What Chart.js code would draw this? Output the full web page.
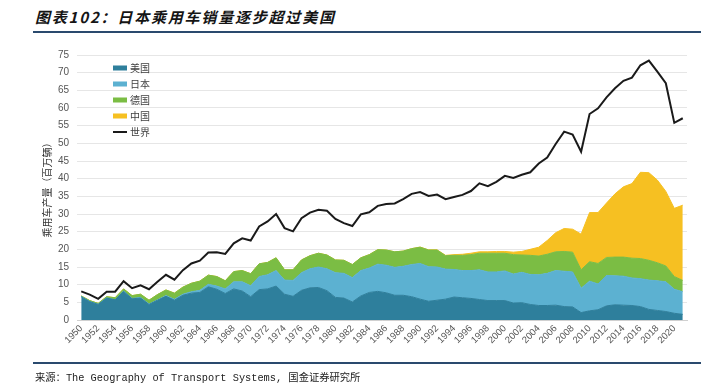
<!DOCTYPE html>
<html><head><meta charset="utf-8">
<script src="https://cdn.jsdelivr.net/npm/chart.js@4.4.0/dist/chart.umd.min.js"></script>
<style>
html,body{margin:0;padding:0;background:#fff;width:701px;height:386px;overflow:hidden;}
#wrap{position:absolute;left:0;top:0;width:701px;height:386px;}
.title{position:absolute;left:35px;top:7px;font:italic bold 15px "Noto Sans CJK SC",sans-serif;letter-spacing:1.8px;color:#151515;white-space:nowrap;line-height:20px;}
.rule{position:absolute;left:33px;width:668px;background:#2a4a6e;}
.src{position:absolute;left:35px;top:370px;font:10.3px "Liberation Mono","Noto Sans CJK SC",monospace;color:#222;white-space:nowrap;line-height:16px;}
</style></head>
<body>
<div class="title">图表102：日本乘用车销量逐步超过美国</div>
<div class="rule" style="top:31px;height:2px;"></div>
<div id="wrap"><canvas id="c" width="701" height="386"></canvas></div>
<div class="rule" style="top:362px;height:1.5px;"></div>
<div class="src">来源：The Geography of Transport Systems, 国金证券研究所</div>
<script>
const years = [];
for (let y = 1950; y <= 2021; y++) years.push(String(y));

const seriesNames = ['美国','日本','德国','中国','世界'];

const usa = [6.6,5.2,4.4,6.2,5.7,8.1,6.0,6.2,4.4,5.6,6.7,5.6,7.0,7.6,7.8,9.4,8.7,7.5,8.8,8.2,
  6.6,8.6,8.8,9.6,7.3,6.7,8.4,9.1,9.2,8.3,6.4,6.2,5.1,6.8,7.8,8.1,7.7,7.0,7.0,6.6,
  5.9,5.3,5.6,5.9,6.5,6.3,6.1,5.8,5.5,5.5,5.5,4.8,4.9,4.4,4.1,4.1,4.2,3.8,3.7,2.1,
  2.6,2.9,4.0,4.3,4.2,4.1,3.8,3.0,2.7,2.4,1.9,1.6];
const japan = [0.05,0.05,0.05,0.05,0.05,0.1,0.1,0.2,0.1,0.1,0.2,0.25,0.3,0.4,0.6,0.7,0.9,1.3,2.0,2.6,
  3.1,3.7,4.0,4.4,4.0,4.5,5.0,5.4,5.8,6.2,7.0,7.0,6.9,7.2,6.9,7.7,7.8,7.9,8.2,9.1,
  10.1,9.8,9.4,8.5,7.8,7.7,7.9,8.4,8.1,8.1,8.4,8.2,8.6,8.5,8.7,9.1,9.8,10.0,9.9,6.9,
  8.4,7.3,8.6,8.2,8.2,7.8,7.9,8.3,8.4,8.4,6.8,6.4];
const germany = [0.15,0.25,0.25,0.35,0.55,0.6,0.8,0.9,1.1,1.5,1.6,1.75,2.0,2.4,2.6,2.6,2.7,2.3,2.9,3.2,
  3.4,3.6,3.5,3.6,2.9,3.0,3.6,3.7,3.9,3.9,3.6,3.7,3.7,3.6,3.8,4.1,4.3,4.4,4.3,4.5,
  4.6,4.7,4.8,3.8,4.0,4.3,4.5,4.7,5.3,5.3,5.0,5.5,4.9,5.4,5.3,5.4,5.3,5.6,5.6,5.2,
  5.5,5.8,5.1,5.3,5.4,5.6,5.7,5.6,5.1,4.5,3.6,3.2];
const china = [0,0,0,0,0,0,0,0,0,0,0,0,0,0,0,0,0,0,0,0,
  0,0,0,0,0,0,0,0,0,0,0,0,0,0,0,0,0,0,0,0,
  0.05,0.05,0.05,0.1,0.2,0.3,0.4,0.4,0.4,0.5,0.5,0.7,1.0,1.7,2.5,3.9,5.4,6.5,6.5,10.1,
  13.9,14.4,15.4,17.9,19.9,21.1,24.4,24.8,23.4,21.1,19.3,21.3];
const world = [8.1,7.2,6.0,8.0,8.0,11.0,9.0,9.8,8.7,10.8,12.8,11.4,14.1,16.0,16.8,19.1,19.2,18.7,21.7,23.1,
  22.5,26.5,27.9,30.0,26.0,25.1,28.8,30.4,31.2,30.9,28.6,27.4,26.6,29.9,30.5,32.3,32.8,33.0,34.2,35.7,
  36.2,35.1,35.5,34.2,34.8,35.4,36.5,38.7,37.9,39.1,40.8,40.2,41.1,41.8,44.3,46.0,49.8,53.3,52.5,47.6,
  58.3,59.9,63.0,65.6,67.7,68.6,72.1,73.4,70.3,67.0,55.8,57.1];

const yTitle = '乘用车产量（百万辆）';

const colors = ['#2e7f9c','#5cb1d1','#7bbd44','#f6c022','#1a1a1a'];

function area(label, data, color, fill) {
  return {label, data, backgroundColor: color, borderColor: color, borderWidth: 1,
    fill, pointRadius: 0, tension: 0, stack: 'areas', order: 2};
}

const legendPlugin = {
  id: 'insideLegend',
  afterDraw(chart) {
    const ctx = chart.ctx;
    const x = 113, y0 = 68, dy = 16;
    ctx.save();
    chart.data.datasets.forEach((ds, i) => {
      const y = y0 + i * dy;
      if (ds.fill === false) {
        ctx.strokeStyle = ds.borderColor; ctx.lineWidth = 2;
        ctx.beginPath(); ctx.moveTo(x, y); ctx.lineTo(x + 14, y); ctx.stroke();
      } else {
        ctx.fillStyle = ds.backgroundColor;
        ctx.fillRect(x, y - 2.5, 14, 5);
      }
      ctx.fillStyle = '#404040';
      ctx.font = '10px "Noto Sans CJK SC"';
      ctx.textBaseline = 'middle';
      ctx.textAlign = 'left';
      ctx.fillText(ds.label, x + 17, y);
    });
    ctx.restore();
  }
};

new Chart(document.getElementById('c'), {
  type: 'line',
  data: {
    labels: years,
    datasets: [
      area(seriesNames[0], usa, colors[0], 'origin'),
      area(seriesNames[1], japan, colors[1], '-1'),
      area(seriesNames[2], germany, colors[2], '-1'),
      area(seriesNames[3], china, colors[3], '-1'),
      {label: seriesNames[4], data: world, borderColor: colors[4], backgroundColor: colors[4],
       borderWidth: 2, fill: false, pointRadius: 0, tension: 0, stack: 'world', order: 1}
    ]
  },
  options: {
    responsive: false,
    animation: false,
    devicePixelRatio: 1,
    layout: {padding: {top: 55, right: 14, left: 37, bottom: 0}},
    plugins: {legend: {display: false}, tooltip: {enabled: false}},
    scales: {
      x: {
        offset: true,
        grid: {display: false, drawTicks: false},
        border: {display: true, color: '#d0d0d0'},
        ticks: {
          autoSkip: false, maxRotation: 45, minRotation: 45, padding: 3,
          color: '#555', font: {family: 'Liberation Sans', size: 9.5},
          callback: function(v, i) { const l = this.getLabelForValue(v); return (Number(l) % 2 === 0) ? l : ''; }
        },
        afterFit: s => { s.height = 66; }
      },
      y: {
        stacked: true,
        min: 0, max: 75,
        ticks: {stepSize: 5, padding: 8, color: '#555', font: {family: 'Liberation Sans', size: 10}},
        grid: {color: '#e6e6e6', drawTicks: false},
        border: {display: false},
        title: {display: true, text: yTitle, color: '#333', padding: {top: 4, bottom: 0},
          font: {family: 'Noto Sans CJK SC', size: 10}},
        afterFit: s => { s.width = 40; }
      }
    }
  },
  plugins: [legendPlugin]
});
</script>
</body></html>
